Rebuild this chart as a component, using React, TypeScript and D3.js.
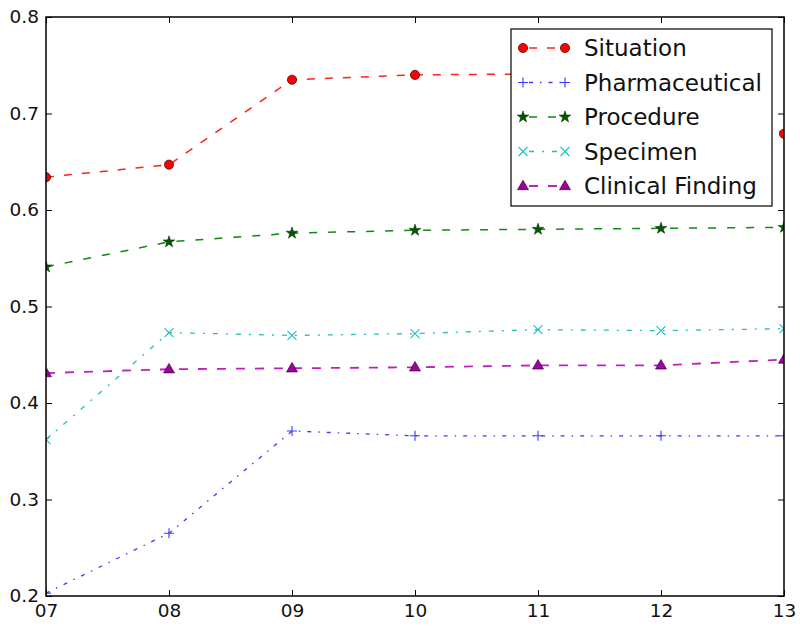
import React, { useEffect, useRef } from "react";
import * as d3 from "d3";

const years = [7, 8, 9, 10, 11, 12, 13];
const situation = [0.634, 0.647, 0.735, 0.74, 0.741, 0.742, 0.679];
const pharmaceutical = [0.203, 0.265, 0.371, 0.366, 0.366, 0.366, 0.366];
const procedure = [0.541, 0.567, 0.576, 0.579, 0.58, 0.581, 0.582];
const specimen = [0.362, 0.473, 0.47, 0.472, 0.476, 0.475, 0.477];
const clinicalFinding = [0.431, 0.435, 0.436, 0.437, 0.439, 0.439, 0.445];
const yTicks = [0.2, 0.3, 0.4, 0.5, 0.6, 0.7, 0.8];
const seriesNames = ["Situation", "Pharmaceutical", "Procedure", "Specimen", "Clinical Finding"];

type Style = { color: string; dash: string; width: number; marker: string; fill: string };
const styles: Style[] = [
  { color: "#ff2020", dash: "8,10", width: 1.5, marker: "circle", fill: "#ff0000" },
  { color: "#3a3aff", dash: "4,7,1.5,7", width: 1.3, marker: "plus", fill: "#3a3aff" },
  { color: "#108a10", dash: "8,11", width: 1.5, marker: "star", fill: "#005a00" },
  { color: "#20c0c0", dash: "5,8,2,8", width: 1.3, marker: "x", fill: "#20c0c0" },
  { color: "#c020c0", dash: "9,10", width: 1.8, marker: "triangle", fill: "#a000a0" },
];

export default function App() {
  const ref = useRef<SVGSVGElement>(null);
  useEffect(() => {
    const svg = d3.select(ref.current);
    svg.selectAll("*").remove();
    const L = 46, R = 784, T = 17, B = 596;
    const x = d3.scaleLinear().domain([7, 13]).range([L, R]);
    const y = d3.scaleLinear().domain([0.2, 0.8]).range([B, T]);
    const font = "DejaVu Sans, sans-serif";
    const data = [situation, pharmaceutical, procedure, specimen, clinicalFinding];

    svg.append("rect").attr("width", 800).attr("height", 626).attr("fill", "white");
    svg.append("clipPath").attr("id", "plotclip").append("rect")
      .attr("x", L).attr("y", T).attr("width", R - L).attr("height", B - T);

    const drawMarker = (g: any, kind: string, cx: number, cy: number, st: Style) => {
      if (kind === "circle") {
        g.append("circle").attr("cx", cx).attr("cy", cy).attr("r", 4.6)
          .attr("fill", st.fill).attr("stroke", "#300").attr("stroke-width", 0.7);
      } else if (kind === "star") {
        g.append("path").attr("d", d3.symbol().type(d3.symbolStar).size(42)())
          .attr("transform", `translate(${cx},${cy})`)
          .attr("fill", st.fill).attr("stroke", "#003000").attr("stroke-width", 0.6);
      } else if (kind === "triangle") {
        g.append("path").attr("d", d3.symbol().type(d3.symbolTriangle).size(52)())
          .attr("transform", `translate(${cx},${cy + 0.5})`)
          .attr("fill", st.fill).attr("stroke", "#400040").attr("stroke-width", 0.7);
      } else if (kind === "plus") {
        g.append("path").attr("d", `M${cx - 5},${cy}H${cx + 5}M${cx},${cy - 5}V${cy + 5}`)
          .attr("stroke", st.color).attr("stroke-width", 1.1).attr("fill", "none");
      } else if (kind === "x") {
        g.append("path").attr("d", `M${cx - 4.5},${cy - 4.5}L${cx + 4.5},${cy + 4.5}M${cx - 4.5},${cy + 4.5}L${cx + 4.5},${cy - 4.5}`)
          .attr("stroke", st.color).attr("stroke-width", 1.1).attr("fill", "none");
      }
    };

    const plot = svg.append("g").attr("clip-path", "url(#plotclip)");
    const line = d3.line<number>().x((_, i) => x(years[i])).y((d) => y(d));
    data.forEach((vals, si) => {
      const st = styles[si];
      plot.append("path").datum(vals).attr("d", line)
        .attr("fill", "none").attr("stroke", st.color).attr("stroke-width", st.width)
        .attr("stroke-dasharray", st.dash);
      vals.forEach((v, i) => drawMarker(plot, st.marker, x(years[i]), y(v), st));
    });

    // axes
    const fmtX = (d: any) => d3.format("02d")(d);
    const gB = svg.append("g").attr("transform", `translate(0,${B})`)
      .call(d3.axisBottom(x).tickValues(years).tickSize(-6).tickPadding(8).tickFormat(fmtX as any));
    const gT = svg.append("g").attr("transform", `translate(0,${T})`)
      .call(d3.axisTop(x).tickValues(years).tickSize(-6).tickFormat(() => ""));
    const gL = svg.append("g").attr("transform", `translate(${L},0)`)
      .call(d3.axisLeft(y).tickValues(yTicks).tickSize(-6).tickPadding(7).tickFormat(d3.format(".1f") as any));
    const gR = svg.append("g").attr("transform", `translate(${R},0)`)
      .call(d3.axisRight(y).tickValues(yTicks).tickSize(-6).tickFormat(() => ""));
    [gB, gT, gL, gR].forEach((g) => {
      g.select(".domain").remove();
      g.selectAll(".tick line").attr("stroke", "#000").attr("stroke-width", 1);
      g.selectAll("text").attr("font-family", font).attr("font-size", 18.5).attr("fill", "#111");
    });
    svg.append("rect").attr("x", L).attr("y", T).attr("width", R - L).attr("height", B - T)
      .attr("fill", "none").attr("stroke", "#000").attr("stroke-width", 1.5);

    // legend
    const lg = svg.append("g");
    lg.append("rect").attr("x", 511).attr("y", 29).attr("width", 261).attr("height", 177)
      .attr("fill", "white").attr("stroke", "#000").attr("stroke-width", 1.2);
    seriesNames.forEach((name, i) => {
      const st = styles[i];
      const ly = 48 + i * 34.5;
      lg.append("line").attr("x1", 523).attr("x2", 565).attr("y1", ly).attr("y2", ly)
        .attr("stroke", st.color).attr("stroke-width", st.width).attr("stroke-dasharray", st.dash)
        .attr("stroke-dashoffset", -6);
      drawMarker(lg, st.marker, 523, ly, st);
      drawMarker(lg, st.marker, 565, ly, st);
      lg.append("text").attr("x", 584).attr("y", ly).attr("dy", "0.36em")
        .attr("font-family", font).attr("font-size", 23).attr("fill", "#111").text(name);
    });
  }, []);
  return (
    <svg ref={ref} width={800} height={626}
      style={{ position: "absolute", left: 0, top: 0, display: "block" }} />
  );
}
